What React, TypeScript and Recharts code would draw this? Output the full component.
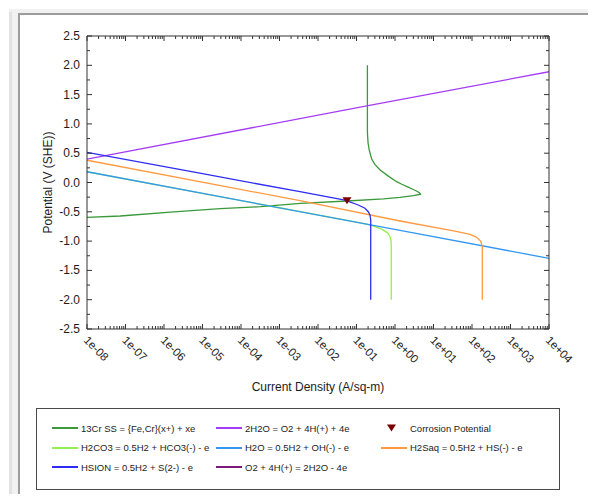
import React from 'react';
import { ComposedChart, Line, Scatter, XAxis, YAxis } from 'recharts';

// ---- data: [current density (A/sq-m), potential (V SHE)] ----
const cr13: [number, number][] = [
  [1e-8, -0.594], [7.3e-8, -0.572], [1.8e-6, -0.503], [2.9e-5, -0.447], [3.2e-4, -0.413],
  [3.5e-3, -0.355], [0.0566, -0.316], [0.5, -0.28], [1.35, -0.255], [3.0, -0.225], [4.6, -0.2],
  [4.3, -0.175], [3.6, -0.145], [2.97, -0.12], [2.2, -0.08], [1.5, -0.03], [1.1, 0.014],
  [0.7, 0.1], [0.41, 0.215], [0.3, 0.31], [0.248, 0.4], [0.215, 0.55], [0.2, 0.67],
  [0.194, 0.8], [0.192, 0.87], [0.192, 2.0],
];
const h2oOxygen: [number, number][] = [[1e-8, 0.4], [0.2, 1.31], [1e4, 1.89]];
const h2co3: [number, number][] = [
  [1e-8, 0.184], [0.1, -0.678], [0.224, -0.725], [0.45, -0.795], [0.63, -0.855],
  [0.74, -0.92], [0.79, -1.0], [0.8, -1.1], [0.8, -2.0],
];
const h2o: [number, number][] = [[1e-8, 0.184], [1.35, -0.818], [1e4, -1.294]];
const h2saq: [number, number][] = [
  [1e-8, 0.38], [3.4e-3, -0.31], [1.35, -0.657], [36, -0.828], [89, -0.884],
  [132, -0.935], [168, -1.0], [185, -1.095], [185, -2.0],
];
const hsion: [number, number][] = [
  [1e-8, 0.515], [1e-5, 0.15], [3.4e-3, -0.157], [0.0502, -0.3], [0.111, -0.384],
  [0.166, -0.44], [0.202, -0.498], [0.224, -0.555], [0.234, -0.64], [0.234, -2.0],
];
const o2Reduction: [number, number][] = [];
const corrosion: [number, number][] = [[0.0566, -0.31]];

const X_MAJOR = [1e-8, 1e-7, 1e-6, 1e-5, 1e-4, 1e-3, 1e-2, 1e-1, 1e0, 1e1, 1e2, 1e3, 1e4];
const Y_MAJOR = [-2.5, -2.0, -1.5, -1.0, -0.5, 0.0, 0.5, 1.0, 1.5, 2.0, 2.5];
const Y_TICKS = [-2.5, -2.25, -2.0, -1.75, -1.5, -1.25, -1.0, -0.75, -0.5, -0.25, 0, 0.25, 0.5, 0.75, 1.0, 1.25, 1.5, 1.75, 2.0, 2.25, 2.5];

const X_MINOR: number[] = [];
for (let p = -8; p < 4; p++) for (let k = 2; k <= 9; k++) X_MINOR.push(k * Math.pow(10, p));
const X_TICKS = [...X_MAJOR, ...X_MINOR].sort((a, b) => a - b);

const toRows = (arr: [number, number][]) => arr.map(([i, e]) => ({ i, e }));

const SERIES = [
  { name: '13Cr SS = {Fe,Cr}(x+) + xe', color: '#3a9a3a', data: cr13 },
  { name: '2H2O = O2 + 4H(+) + 4e', color: '#a53cf5', data: h2oOxygen },
  { name: 'H2CO3 = 0.5H2 + HCO3(-) - e', color: '#94f050', data: h2co3 },
  { name: 'H2O = 0.5H2 + OH(-) - e', color: '#3397f2', data: h2o },
  { name: 'H2Saq = 0.5H2 + HS(-) - e', color: '#ff9a40', data: h2saq },
  { name: 'HSION = 0.5H2 + S(2-) - e', color: '#2d2df2', data: hsion },
  { name: 'O2 + 4H(+) = 2H2O - 4e', color: '#7a1a7a', data: o2Reduction },
];
const CORR_COLOR = '#7a0000';

const LEGEND_LAYOUT = [
  { key: '13Cr SS = {Fe,Cr}(x+) + xe', col: 0, row: 0 },
  { key: '2H2O = O2 + 4H(+) + 4e', col: 1, row: 0 },
  { key: 'Corrosion Potential', col: 2, row: 0 },
  { key: 'H2CO3 = 0.5H2 + HCO3(-) - e', col: 0, row: 1 },
  { key: 'H2O = 0.5H2 + OH(-) - e', col: 1, row: 1 },
  { key: 'H2Saq = 0.5H2 + HS(-) - e', col: 2, row: 1 },
  { key: 'HSION = 0.5H2 + S(2-) - e', col: 0, row: 2 },
  { key: 'O2 + 4H(+) = 2H2O - 4e', col: 1, row: 2 },
];

const FONT = '"Liberation Sans", Arial, sans-serif';
const AXIS = '#333333';
const TEXT = '#1c1c1c';

const isMajorX = (v: number) => X_MAJOR.some((m) => Math.abs(v / m - 1) < 1e-6);
const isMajorY = (v: number) => Y_MAJOR.some((m) => Math.abs(v - m) < 1e-6);
const fmtX = (v: number) => {
  const p = Math.round(Math.log10(v));
  return '1e' + (p < 0 ? '-' : '+') + String(Math.abs(p)).padStart(2, '0');
};
const fmtY = (v: number) => v.toFixed(1);

const BottomTick = (props: any) => {
  const { x, y, payload } = props;
  const major = isMajorX(payload.value);
  return (
    <g>
      <line x1={x} y1={y} x2={x} y2={y - (major ? 5 : 3)} stroke={AXIS} strokeWidth={1} />
      {major && (
        <text
          transform={`translate(${x - 4},${y + 12}) rotate(45)`}
          fontSize={11.5}
          fontFamily={FONT}
          fill={TEXT}
          textAnchor="start"
        >
          {fmtX(payload.value)}
        </text>
      )}
    </g>
  );
};
const TopTick = (props: any) => {
  const { x, y, payload } = props;
  const major = isMajorX(payload.value);
  return <line x1={x} y1={y} x2={x} y2={y + (major ? 5 : 3)} stroke={AXIS} strokeWidth={1} />;
};
const LeftTick = (props: any) => {
  const { x, y, payload } = props;
  const major = isMajorY(payload.value);
  return (
    <g>
      <line x1={x} y1={y} x2={x + (major ? 5 : 3)} y2={y} stroke={AXIS} strokeWidth={1} />
      {major && (
        <text x={x - 7} y={y + 4} fontSize={12} fontFamily={FONT} fill={TEXT} textAnchor="end">
          {fmtY(payload.value)}
        </text>
      )}
    </g>
  );
};
const RightTick = (props: any) => {
  const { x, y, payload } = props;
  const major = isMajorY(payload.value);
  return <line x1={x} y1={y} x2={x - (major ? 5 : 3)} y2={y} stroke={AXIS} strokeWidth={1} />;
};

const XTitle = (props: any) => {
  const vb = props.viewBox || {};
  return (
    <text x={vb.x + vb.width / 2} y={vb.y + 62} fontSize={12} fontFamily={FONT} fill={TEXT} textAnchor="middle">
      Current Density (A/sq-m)
    </text>
  );
};
const YTitle = (props: any) => {
  const vb = props.viewBox || {};
  const cx = vb.x + 25;
  const cy = vb.y + vb.height / 2;
  return (
    <text
      transform={`translate(${cx},${cy}) rotate(-90)`}
      fontSize={12}
      fontFamily={FONT}
      fill={TEXT}
      textAnchor="middle"
    >
      Potential (V (SHE))
    </text>
  );
};

const Triangle = (props: any) => {
  const { cx, cy } = props;
  return <path d={`M${cx - 4.5},${cy - 3.5} L${cx + 4.5},${cy - 3.5} L${cx},${cy + 3.5} Z`} fill={CORR_COLOR} />;
};

const LegendBox = () => {
  const colX = [15, 179, 344];
  const rowY = [19, 38.5, 58];
  return (
    <div
      style={{
        position: 'absolute',
        left: 36,
        top: 408,
        width: 524,
        height: 82,
        border: '1px solid #4a4a4a',
        boxSizing: 'border-box',
        background: '#fff',
        fontFamily: FONT,
        fontSize: 9.5,
        color: TEXT,
      }}
    >
      {LEGEND_LAYOUT.map((it) => {
        const s = SERIES.find((q) => q.name === it.key);
        const left = colX[it.col];
        const top = rowY[it.row] - 7;
        if (!s) {
          return (
            <div key={it.key} style={{ position: 'absolute', left, top, height: 14, display: 'flex', alignItems: 'center', whiteSpace: 'nowrap' }}>
              <svg width={29} height={14} style={{ marginRight: 0 }}>
                <path d="M6,3.5 L15,3.5 L10.5,10.5 Z" fill={CORR_COLOR} />
              </svg>
              <span>{it.key}</span>
            </div>
          );
        }
        return (
          <div key={it.key} style={{ position: 'absolute', left, top, height: 14, display: 'flex', alignItems: 'center', whiteSpace: 'nowrap' }}>
            <div style={{ width: 26, height: 2, background: s.color, marginRight: 3 }} />
            <span>{it.key}</span>
          </div>
        );
      })}
    </div>
  );
};

export default function App() {
  return (
    <div style={{ position: 'relative', margin: -8, width: 596, height: 502, overflow: 'hidden', background: '#fff' }}>
      <div style={{ position: 'absolute', left: 9, top: 9, width: 600, height: 500, background: '#f1f1f1' }} />
      <div style={{ position: 'absolute', left: 9, top: 12, width: 3, height: 500, background: '#e2e2e2' }} />
      <div
        style={{
          position: 'absolute',
          left: 18,
          top: 13,
          width: 600,
          height: 484,
          border: '2px solid #9c9c9c',
          boxSizing: 'border-box',
          background: '#fff',
        }}
      />
      <div style={{ position: 'absolute', left: 0, top: 0 }}>
        <ComposedChart width={596} height={400} margin={{ top: 35, right: 46, left: 27, bottom: 0 }}>
          <XAxis
            xAxisId="top"
            orientation="top"
            type="number"
            dataKey="i"
            scale="log"
            domain={[1e-8, 1e4]}
            allowDataOverflow
            ticks={X_TICKS}
            interval={0}
            height={1}
            tickSize={0}
            tickMargin={0}
            tickLine={false}
            tick={TopTick}
            axisLine={{ stroke: AXIS }}
          />
          <XAxis
            xAxisId="bottom"
            orientation="bottom"
            type="number"
            dataKey="i"
            scale="log"
            domain={[1e-8, 1e4]}
            allowDataOverflow
            ticks={X_TICKS}
            interval={0}
            height={71}
            tickSize={0}
            tickMargin={0}
            tickLine={false}
            tick={BottomTick}
            axisLine={{ stroke: AXIS }}
            label={(p: any) => <XTitle {...p} />}
          />
          <YAxis
            yAxisId="left"
            orientation="left"
            type="number"
            dataKey="e"
            domain={[-2.5, 2.5]}
            allowDataOverflow
            ticks={Y_TICKS}
            interval={0}
            width={60}
            tickSize={0}
            tickMargin={0}
            tickLine={false}
            tick={LeftTick}
            axisLine={{ stroke: AXIS }}
            label={(p: any) => <YTitle {...p} />}
          />
          <YAxis
            yAxisId="right"
            orientation="right"
            type="number"
            dataKey="e"
            domain={[-2.5, 2.5]}
            allowDataOverflow
            ticks={Y_TICKS}
            interval={0}
            width={1}
            tickSize={0}
            tickMargin={0}
            tickLine={false}
            tick={RightTick}
            axisLine={{ stroke: AXIS }}
          />
          {SERIES.filter((s) => s.data.length > 0).map((s) => (
            <Line
              key={s.name}
              name={s.name}
              xAxisId="bottom"
              yAxisId="left"
              data={toRows(s.data)}
              dataKey="e"
              type="linear"
              stroke={s.color}
              strokeWidth={1.3}
              dot={false}
              activeDot={false}
              isAnimationActive={false}
            />
          ))}
          <Scatter
            name="Corrosion Potential"
            xAxisId="bottom"
            yAxisId="left"
            data={toRows(corrosion)}
            dataKey="e"
            fill={CORR_COLOR}
            shape={Triangle}
            isAnimationActive={false}
          />
        </ComposedChart>
      </div>
      <LegendBox />
    </div>
  );
}
